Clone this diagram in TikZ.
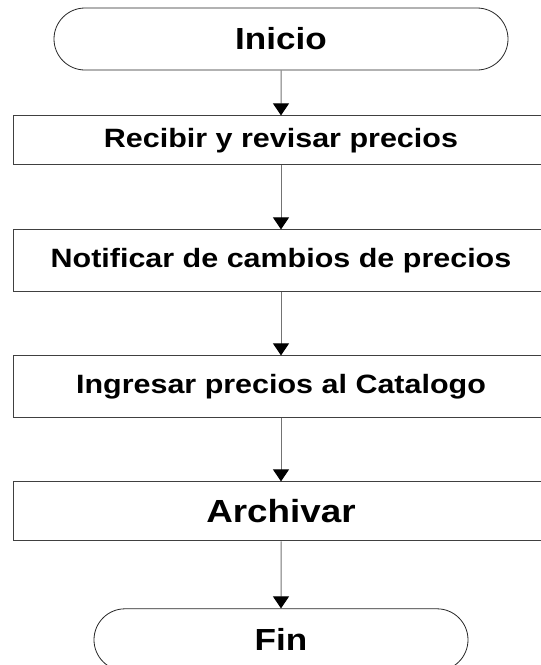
\documentclass[tikz,border=0pt]{standalone}
\usepackage{fontspec}
\setmainfont[FakeStretch=1.15]{Liberation Sans}
\usetikzlibrary{positioning,shapes.misc,arrows.meta}
\tikzset{
	paso/.style={draw=black!75,line width=1pt,minimum width=536pt,inner sep=0pt,
		font=\fontsize{26.5}{30}\selectfont\bfseries},
	limite/.style={draw=black!85,line width=.8pt,rounded rectangle,minimum height=62pt,
		inner sep=0pt,font=\fontsize{30.5}{34}\selectfont\bfseries},
}

\begin{document}
\begin{tikzpicture}[>={Triangle[color=black,fill=black,length=12pt,width=16pt]},x=1pt,y=1pt]
		\useasboundingbox (0,0) rectangle (541,-665);
		\clip (0,0) rectangle (541,-665);

		\node[limite,minimum width=454pt] (ini) at (281,-39) {Inicio};
		\node[paso,minimum height=49pt,below=45pt of ini] (rec) {Recibir y revisar precios};
		\node[paso,minimum height=62pt,below=64pt of rec] (notif) {Notificar de cambios de precios};
		\node[paso,minimum height=62pt,below=63pt of notif] (ingr) {Ingresar precios al Catalogo};
		\node[paso,minimum height=59pt,below=63pt of ingr,font=\fontsize{32}{36}\selectfont\bfseries] (arch) {Archivar};
		\node[limite,minimum width=374pt,below=67pt of arch] (fin) {Fin};

		\draw[->,black!55,line width=1pt]
			(ini) edge (rec)
			(rec) edge (notif)
			(notif) edge (ingr)
			(ingr) edge (arch)
			(arch) edge (fin)
		;
	\end{tikzpicture}
\end{document}
